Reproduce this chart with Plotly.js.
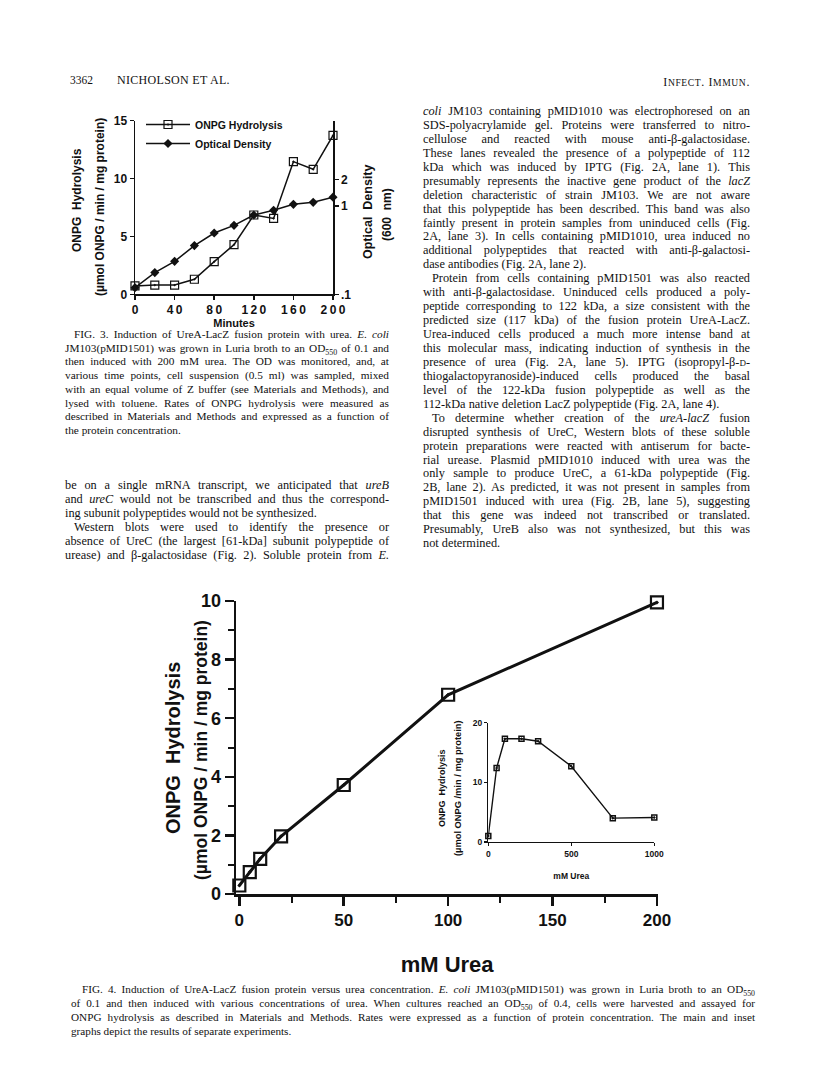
<!DOCTYPE html>
<html><head><meta charset="utf-8">
<script src="https://cdn.plot.ly/plotly-3.0.1.min.js"></script>
<style>
html,body{margin:0;padding:0;background:#fff;}
#page{position:relative;width:816px;height:1084px;overflow:hidden;background:#fff;}
#plot{position:absolute;left:0;top:0;width:816px;height:1084px;}
.ln{position:absolute;white-space:nowrap;font-family:"Liberation Serif","DejaVu Serif",serif;color:#111;}
.j{text-align:justify;text-align-last:justify;}
.l{text-align:left;text-align-last:left;}
</style></head>
<body><div id="page"><div id="plot"></div></div>
<script>
// ---- Fig. 3 data ----
const minutes = [0,20,40,60,80,100,120,140,160,180,200];
const onpgHydrolysis = [0.72,0.8,0.8,1.3,2.82,4.29,6.85,6.56,11.46,10.8,13.73];
const opticalDensity = [0.119,0.176,0.236,0.356,0.494,0.604,0.79,0.893,1.044,1.10,1.26];
const fig3XTicks = [0,40,80,120,160,200];
const fig3YTicks = [0,5,10,15];
const odTickVals = [0.1,1,2];
const odTickText = ['.1','1','2'];
// ---- Fig. 4 main data ----
const ureaMain = [0,5,10,20,50,100,200];
const onpgMain = [0.29,0.75,1.2,1.97,3.72,6.8,9.95];
// ---- Fig. 4 inset data ----
const ureaInset = [0,50,100,200,300,500,750,1000];
const onpgInset = [1.0,12.4,17.3,17.3,16.9,12.7,4.0,4.1];

// ---- text ----
const headerLeft = '3362';
const headerMid = 'NICHOLSON ET AL.';
const fig3Caption = [
 'FIG. 3. Induction of UreA-LacZ fusion protein with urea. <i>E. coli</i>',
 'JM103(pMID1501) was grown in Luria broth to an OD<sub>550</sub> of 0.1 and',
 'then induced with 200 mM urea. The OD was monitored, and, at',
 'various time points, cell suspension (0.5 ml) was sampled, mixed',
 'with an equal volume of Z buffer (see Materials and Methods), and',
 'lysed with toluene. Rates of ONPG hydrolysis were measured as',
 'described in Materials and Methods and expressed as a function of',
 'the protein concentration.'
];
const leftBody = [
 'be on a single mRNA transcript, we anticipated that <i>ureB</i>',
 'and <i>ureC</i> would not be transcribed and thus the correspond-',
 'ing subunit polypeptides would not be synthesized.',
 'Western blots were used to identify the presence or',
 'absence of UreC (the largest [61-kDa] subunit polypeptide of',
 'urease) and β-galactosidase (Fig. 2). Soluble protein from <i>E.</i>'
];
const leftBodyLast = [false,false,true,false,false,false];
const leftBodyIndent = [false,false,false,true,false,false];
const rightBody = [
 '<i>coli</i> JM103 containing pMID1010 was electrophoresed on an',
 'SDS-polyacrylamide gel. Proteins were transferred to nitro-',
 'cellulose and reacted with mouse anti-β-galactosidase.',
 'These lanes revealed the presence of a polypeptide of 112',
 'kDa which was induced by IPTG (Fig. 2A, lane 1). This',
 'presumably represents the inactive gene product of the <i>lacZ</i>',
 'deletion characteristic of strain JM103. We are not aware',
 'that this polypeptide has been described. This band was also',
 'faintly present in protein samples from uninduced cells (Fig.',
 '2A, lane 3). In cells containing pMID1010, urea induced no',
 'additional polypeptides that reacted with anti-β-galactosi-',
 'dase antibodies (Fig. 2A, lane 2).',
 'Protein from cells containing pMID1501 was also reacted',
 'with anti-β-galactosidase. Uninduced cells produced a poly-',
 'peptide corresponding to 122 kDa, a size consistent with the',
 'predicted size (117 kDa) of the fusion protein UreA-LacZ.',
 'Urea-induced cells produced a much more intense band at',
 'this molecular mass, indicating induction of synthesis in the',
 'presence of urea (Fig. 2A, lane 5). IPTG (isopropyl-β-<span style="font-variant:small-caps">d</span>-',
 'thiogalactopyranoside)-induced cells produced the basal',
 'level of the 122-kDa fusion polypeptide as well as the',
 '112-kDa native deletion LacZ polypeptide (Fig. 2A, lane 4).',
 'To determine whether creation of the <i>ureA-lacZ</i> fusion',
 'disrupted synthesis of UreC, Western blots of these soluble',
 'protein preparations were reacted with antiserum for bacte-',
 'rial urease. Plasmid pMID1010 induced with urea was the',
 'only sample to produce UreC, a 61-kDa polypeptide (Fig.',
 '2B, lane 2). As predicted, it was not present in samples from',
 'pMID1501 induced with urea (Fig. 2B, lane 5), suggesting',
 'that this gene was indeed not transcribed or translated.',
 'Presumably, UreB also was not synthesized, but this was',
 'not determined.'
];
const rightLast = [11,21,31];
const rightIndent = [12,22];
const fig4Caption = [
 'FIG. 4. Induction of UreA-LacZ fusion protein versus urea concentration. <i>E. coli</i> JM103(pMID1501) was grown in Luria broth to an OD<sub>550</sub>',
 'of 0.1 and then induced with various concentrations of urea. When cultures reached an OD<sub>550</sub> of 0.4, cells were harvested and assayed for',
 'ONPG hydrolysis as described in Materials and Methods. Rates were expressed as a function of protein concentration. The main and inset',
 'graphs depict the results of separate experiments.'
];

// ---- place text lines ----
const page = document.getElementById('page');
function addLine(html, left, width, center, size, just, indent, lh){
  const d = document.createElement('div');
  d.className = 'ln ' + (just ? 'j' : 'l');
  d.style.left = (left + (indent||0)) + 'px';
  d.style.width = (width - (indent||0)) + 'px';
  d.style.top = (center - lh/2) + 'px';
  d.style.height = lh + 'px';
  d.style.lineHeight = lh + 'px';
  d.style.fontSize = size + 'px';
  d.style.whiteSpace = 'normal';
  d.innerHTML = html.replace(/<sub>/g,'<sub style="font-size:0.7em;line-height:0">');
  page.appendChild(d);
  return d;
}
let h1 = addLine(headerLeft, 70, 40, 80, 11.5, false, 0, 12);
let h2 = addLine(headerMid, 117, 200, 80, 12, false, 0, 12); h2.style.letterSpacing='0.3px';
let h3 = addLine('I<span style="font-size:0.8em">NFECT</span>. I<span style="font-size:0.8em">MMUN</span>.', 640, 110, 82, 12, false, 0, 12);
h3.style.textAlign='right'; h3.style.textAlignLast='right'; h3.style.letterSpacing='0.6px';

fig3Caption.forEach((t,i)=>addLine(t, 65, 324, 334 + i*13.7, 11.3, i < fig3Caption.length-1, i===0?9:0, 12));
leftBody.forEach((t,i)=>addLine(t, 65, 324, 485 + i*14, 12.3, !leftBodyLast[i], leftBodyIndent[i]?9:0, 12));
rightBody.forEach((t,i)=>addLine(t, 423, 327, 111 + i*13.94, 12.3, rightLast.indexOf(i)<0, rightIndent.indexOf(i)>=0?9:0, 12));
fig4Caption.forEach((t,i)=>addLine(t, 71, 684, 989 + i*14.1, 11.2, i < fig4Caption.length-1, i===0?11:0, 12));

// ---- chart ----
const W = 816, H = 1084;
const px = v => v / W;
const py = v => 1 - v / H;
const sans = 'Liberation Sans, Arial, Helvetica, sans-serif';
const bf = (s) => ({family: sans, size: s, color: '#111', weight: 'bold'});
const spaced = arr => arr.map(v => String(v).split('').join('\u2009'));

const traces = [
 {x: minutes, y: onpgHydrolysis, xaxis:'x', yaxis:'y', mode:'lines+markers', name:'ONPG Hydrolysis',
  line:{color:'#111', width:1.5}, marker:{symbol:'square-open-dot', size:8, color:'#111', line:{width:1.2}}, cliponaxis:false},
 {x: minutes, y: opticalDensity, xaxis:'x', yaxis:'y2', mode:'lines+markers', name:'Optical Density',
  line:{color:'#111', width:1.5}, marker:{symbol:'diamond', size:7, color:'#111'}, cliponaxis:false},
 {x: ureaMain, y: onpgMain, xaxis:'x2', yaxis:'y3', mode:'lines+markers', showlegend:false,
  line:{color:'#111', width:3}, marker:{symbol:'square-open-dot', size:12, color:'#111', line:{width:2.2}}, cliponaxis:false},
 {x: ureaInset, y: onpgInset, xaxis:'x3', yaxis:'y4', mode:'lines+markers', showlegend:false,
  line:{color:'#111', width:1.4}, marker:{symbol:'square-open-dot', size:5, color:'#111', line:{width:1.5}}, cliponaxis:false}
];

const axBase = {showline:true, linecolor:'#111', showgrid:false, zeroline:false, ticks:'outside', tickcolor:'#111', fixedrange:true};

const layout = {
 width: W, height: H, margin:{l:0,r:0,t:0,b:0},
 paper_bgcolor:'rgba(0,0,0,0)', plot_bgcolor:'rgba(0,0,0,0)',
 font:{family: sans, color:'#111'},
 showlegend:true,
 legend:{x: px(141), y: py(110), xanchor:'left', yanchor:'top', bgcolor:'rgba(0,0,0,0)',
   font: bf(10.5), tracegroupgap:0, itemwidth:44},
 xaxis: Object.assign({}, axBase, {domain:[px(135), px(333)], range:[0,200], anchor:'y',
   tickvals: fig3XTicks, ticktext: spaced(fig3XTicks), tickfont: bf(12), linewidth:1.5, ticklen:4, tickwidth:1.5,
   title:{text:'Minutes', font: bf(11), standoff: 0}}),
 yaxis: Object.assign({}, axBase, {domain:[py(294.3), py(120.7)], range:[0,15], anchor:'x',
   tickvals: fig3YTicks, tickfont: bf(12), linewidth:1.5, ticklen:4, tickwidth:1.5}),
 yaxis2: Object.assign({}, axBase, {overlaying:'y', side:'right', anchor:'x', type:'log', range:[-1, 0.966],
   tickvals: odTickVals, ticktext: odTickText, tickfont: bf(12), linewidth:1.5, ticklen:4, tickwidth:1.5}),
 xaxis2: Object.assign({}, axBase, {domain:[px(236.2), px(658)], range:[-1.5,200.5], anchor:'y3',
   dtick:50, tick0:0, tickfont: bf(17), linewidth:2.5, ticklen:9, tickwidth:2.5,
   minor:{dtick:25, tick0:0, ticks:'outside', ticklen:6, tickwidth:2, tickcolor:'#111'},
   title:{text:'mM Urea', font: bf(22), standoff: 28}}),
 yaxis3: Object.assign({}, axBase, {domain:[py(894), py(601)], range:[0,10], anchor:'x2',
   dtick:2, tick0:0, tickfont: bf(18), linewidth:2.5, ticklen:9, tickwidth:2.5,
   minor:{dtick:1, tick0:0, ticks:'outside', ticklen:6, tickwidth:2, tickcolor:'#111'}}),
 xaxis3: Object.assign({}, axBase, {domain:[px(488.3), px(654.3)], range:[0,1000], anchor:'y4',
   dtick:500, tick0:0, tickfont: bf(8.5), linewidth:1.3, ticklen:3, tickwidth:1.3,
   title:{text:'mM Urea', font: bf(8.5), standoff: 15}}),
 yaxis4: Object.assign({}, axBase, {domain:[py(842), py(722.7)], range:[0,20], anchor:'x3',
   dtick:10, tick0:0, tickfont: bf(8.5), linewidth:1.3, ticklen:3, tickwidth:1.3}),
 annotations: [
  {text:'ONPG  Hydrolysis', xref:'paper', yref:'paper', x:px(77), y:py(200), textangle:-90, showarrow:false, font:bf(12), xanchor:'center', yanchor:'middle'},
  {text:'(µmol ONPG / min / mg protein)', xref:'paper', yref:'paper', x:px(100), y:py(207), textangle:-90, showarrow:false, font:bf(12), xanchor:'center', yanchor:'middle'},
  {text:'Optical  Density', xref:'paper', yref:'paper', x:px(368), y:py(212), textangle:-90, showarrow:false, font:bf(12.5), xanchor:'center', yanchor:'middle'},
  {text:'(600  nm)', xref:'paper', yref:'paper', x:px(387), y:py(215), textangle:-90, showarrow:false, font:bf(12), xanchor:'center', yanchor:'middle'},
  {text:'ONPG  Hydrolysis', xref:'paper', yref:'paper', x:px(173), y:py(748), textangle:-90, showarrow:false, font:bf(20), xanchor:'center', yanchor:'middle'},
  {text:'(µmol ONPG / min / mg protein)', xref:'paper', yref:'paper', x:px(201), y:py(750), textangle:-90, showarrow:false, font:bf(17.5), xanchor:'center', yanchor:'middle'},
  {text:'ONPG  Hydrolysis', xref:'paper', yref:'paper', x:px(442), y:py(788), textangle:-90, showarrow:false, font:bf(9), xanchor:'center', yanchor:'middle'},
  {text:'(µmol ONPG /min / mg protein)', xref:'paper', yref:'paper', x:px(458), y:py(788), textangle:-90, showarrow:false, font:bf(9.3), xanchor:'center', yanchor:'middle'}
 ]
};
Plotly.newPlot('plot', traces, layout, {staticPlot:true, displayModeBar:false});
</script></body></html>
